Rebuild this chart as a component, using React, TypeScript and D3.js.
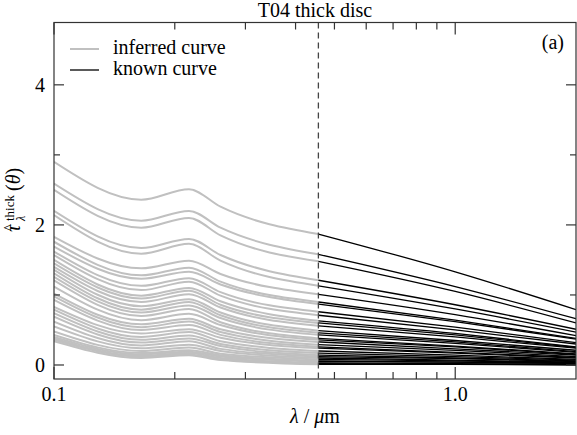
import React from "react";
import * as d3 from "d3";

// wavelength nodes (micron)
const inferredWavelengths = [0.1, 0.165, 0.217, 0.26, 0.456];
const knownWavelengths = [0.456, 1.0, 2.0];
const splitWavelength = 0.456;

// inferred (grey) curve values at each node
const tauAt0100 = [2.90, 2.59, 2.50, 2.20, 2.14, 1.83, 1.76, 1.69, 1.62, 1.57, 1.50, 1.45, 1.40, 1.36, 1.31, 1.26, 1.21, 1.12, 1.02, 0.98, 0.93, 0.83, 0.79, 0.74, 0.69, 0.62, 0.55, 0.48, 0.43, 0.40, 0.38, 0.36, 0.34];
const tauAt0165 = [2.36, 2.06, 1.96, 1.67, 1.59, 1.38, 1.28, 1.23, 1.13, 1.07, 0.99, 0.95, 0.90, 0.84, 0.79, 0.75, 0.70, 0.64, 0.58, 0.54, 0.50, 0.45, 0.40, 0.36, 0.32, 0.28, 0.24, 0.20, 0.17, 0.15, 0.13, 0.12, 0.10];
const tauAt0217 = [2.51, 2.20, 2.10, 1.80, 1.73, 1.49, 1.39, 1.33, 1.24, 1.19, 1.10, 1.06, 1.01, 0.94, 0.90, 0.85, 0.80, 0.73, 0.66, 0.62, 0.57, 0.51, 0.47, 0.42, 0.38, 0.34, 0.29, 0.25, 0.21, 0.19, 0.17, 0.15, 0.14];
const tauAt0260 = [2.26, 1.96, 1.85, 1.57, 1.49, 1.30, 1.19, 1.15, 1.04, 0.99, 0.91, 0.86, 0.82, 0.75, 0.71, 0.67, 0.61, 0.57, 0.51, 0.47, 0.43, 0.39, 0.34, 0.30, 0.27, 0.23, 0.20, 0.16, 0.14, 0.12, 0.10, 0.08, 0.07];
const tauAt0456 = [1.87, 1.58, 1.48, 1.21, 1.13, 1.01, 0.90, 0.87, 0.76, 0.71, 0.63, 0.60, 0.56, 0.49, 0.46, 0.43, 0.38, 0.36, 0.33, 0.29, 0.26, 0.24, 0.20, 0.17, 0.14, 0.12, 0.10, 0.08, 0.06, 0.05, 0.03, 0.02, 0.01];
// known (black) curve values
const tauAt1000 = [1.33, 1.12, 1.05, 0.86, 0.80, 0.72, 0.64, 0.62, 0.54, 0.50, 0.45, 0.43, 0.40, 0.35, 0.33, 0.31, 0.27, 0.26, 0.23, 0.21, 0.18, 0.17, 0.14, 0.12, 0.10, 0.09, 0.07, 0.06, 0.04, 0.04, 0.02, 0.01, 0.01];
const tauAt2000 = [0.79, 0.66, 0.60, 0.51, 0.47, 0.42, 0.38, 0.37, 0.32, 0.30, 0.26, 0.25, 0.24, 0.21, 0.19, 0.18, 0.16, 0.15, 0.14, 0.12, 0.11, 0.10, 0.08, 0.07, 0.06, 0.05, 0.04, 0.03, 0.03, 0.02, 0.01, 0.01, 0.0];

const xMajorTicks = [0.1, 1.0];
const xMajorLabels = ["0.1", "1.0"];
const xMinorTicks = [0.2, 0.3, 0.4, 0.5, 0.6, 0.7, 0.8, 0.9];
const yMajorTicks = [0, 2, 4];
const yMinorTicks = [1, 3];

const W = 577, H = 435;
const L = 54, R = 576, T = 22.5, B = 379;
const FONT = '"Liberation Serif", Tinos, "Times New Roman", Times, "Nimbus Roman", "Nimbus Roman No9 L", FreeSerif, "Noto Serif", "DejaVu Serif", serif';

export default function App() {
  const x = d3.scaleLog().domain([0.1, 2.0]).range([L, R]);
  const y = d3.scaleLinear().domain([-0.2, 4.89]).range([B, T]);
  const line = d3
    .line<[number, number]>()
    .x((d) => x(d[0]))
    .y((d) => y(d[1]))
    .curve(d3.curveMonotoneX);

  const inferred = tauAt0100.map((_, i) => {
    const vals = [tauAt0100[i], tauAt0165[i], tauAt0217[i], tauAt0260[i], tauAt0456[i]];
    return inferredWavelengths.map((w, j) => [w, vals[j]] as [number, number]);
  });
  const known = tauAt0456.map((_, i) => {
    const vals = [tauAt0456[i], tauAt1000[i], tauAt2000[i]];
    return knownWavelengths.map((w, j) => [w, vals[j]] as [number, number]);
  });

  const axisColor = "#333";
  const ts: React.CSSProperties = { fontFamily: FONT };
  return (
    <svg width={W} height={H} style={{ display: "block", position: "absolute", left: 0, top: 0, fontFamily: FONT }}>
      <rect width={W} height={H} fill="#fff" />
      <defs>
        <clipPath id="plotclip">
          <rect x={L} y={T} width={R - L} height={B - T} />
        </clipPath>
      </defs>
      <text x={(L + R) / 2} y={17} fontSize={20} textAnchor="middle" style={ts}>T04 thick disc</text>
      <g clipPath="url(#plotclip)">
        {inferred.map((pts, i) => (
          <path key={"g" + i} d={line(pts) || ""} fill="none" stroke="#c0c0c0" strokeWidth={2} />
        ))}
        {known.map((pts, i) => (
          <path key={"k" + i} d={line(pts) || ""} fill="none" stroke="#000" strokeWidth={1.3} />
        ))}
        <line x1={x(splitWavelength)} x2={x(splitWavelength)} y1={T} y2={B} stroke="#444" strokeWidth={1.3} strokeDasharray="6,4" />
      </g>
      {/* frame */}
      <rect x={L} y={T} width={R - L} height={B - T} fill="none" stroke={axisColor} strokeWidth={1.2} />
      {/* x ticks */}
      {xMajorTicks.map((t) => (
        <g key={"xm" + t}>
          <line x1={x(t)} x2={x(t)} y1={B} y2={B - 12} stroke={axisColor} strokeWidth={1.2} />
          <line x1={x(t)} x2={x(t)} y1={T} y2={T + 12} stroke={axisColor} strokeWidth={1.2} />
        </g>
      ))}
      {xMinorTicks.map((t) => (
        <g key={"xn" + t}>
          <line x1={x(t)} x2={x(t)} y1={B} y2={B - 7} stroke={axisColor} strokeWidth={1.2} />
          <line x1={x(t)} x2={x(t)} y1={T} y2={T + 7} stroke={axisColor} strokeWidth={1.2} />
        </g>
      ))}
      {xMajorTicks.map((t, i) => (
        <text key={"xl" + t} x={x(t)} y={401} fontSize={20} textAnchor="middle" style={ts}>{xMajorLabels[i]}</text>
      ))}
      {/* y ticks */}
      {yMajorTicks.map((t) => (
        <g key={"ym" + t}>
          <line x1={L} x2={L + 10} y1={y(t)} y2={y(t)} stroke={axisColor} strokeWidth={1.2} />
          <line x1={R} x2={R - 10} y1={y(t)} y2={y(t)} stroke={axisColor} strokeWidth={1.2} />
          <text x={L - 9} y={y(t) + 7} fontSize={20} textAnchor="end" style={ts}>{t}</text>
        </g>
      ))}
      {yMinorTicks.map((t) => (
        <g key={"yn" + t}>
          <line x1={L} x2={L + 6} y1={y(t)} y2={y(t)} stroke={axisColor} strokeWidth={1.2} />
          <line x1={R} x2={R - 6} y1={y(t)} y2={y(t)} stroke={axisColor} strokeWidth={1.2} />
        </g>
      ))}
      {/* x label */}
      <text x={(L + R) / 2} y={423} fontSize={20} textAnchor="middle" style={ts}>
        <tspan fontStyle="italic">λ</tspan>
        <tspan> / </tspan>
        <tspan fontStyle="italic">μ</tspan>
        <tspan>m</tspan>
      </text>
      {/* y label */}
      <g transform="translate(19.5,200) rotate(-90)" style={ts}>
        <text x={-32} y={0} fontSize={20} fontStyle="italic" style={ts}>τ</text>
        <text x={-31} y={-6} fontSize={14} style={ts}>^</text>
        <text x={-21} y={-6} fontSize={13} style={ts}>thick</text>
        <text x={-21} y={5} fontSize={12} fontStyle="italic" style={ts}>λ</text>
        <text x={9} y={0} fontSize={20} style={ts}>
          <tspan>(</tspan>
          <tspan fontStyle="italic">θ</tspan>
          <tspan>)</tspan>
        </text>
      </g>
      {/* legend */}
      <line x1={70} x2={99} y1={49} y2={49} stroke="#c0c0c0" strokeWidth={2} />
      <text x={113} y={54} fontSize={20} style={ts}>inferred curve</text>
      <line x1={70} x2={99} y1={70} y2={70} stroke="#000" strokeWidth={1.3} />
      <text x={113} y={75} fontSize={20} style={ts}>known curve</text>
      <text x={564} y={49} fontSize={20} textAnchor="end" style={ts}>(a)</text>
    </svg>
  );
}
